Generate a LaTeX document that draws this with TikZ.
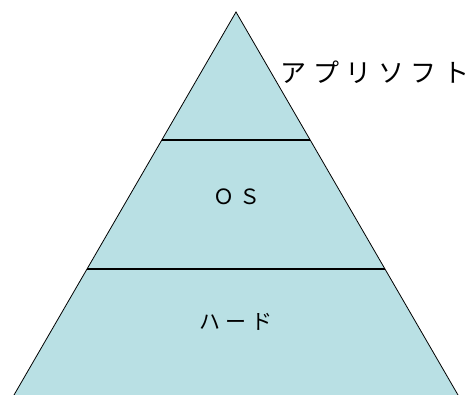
\documentclass[tikz,border=0pt]{standalone}
\usepackage{fontspec}
\usepackage{tikz}
\usepackage{xcolor}
\newfontfamily\jpfont[LetterSpace=25]{Noto Sans CJK JP}
\definecolor{layerfill}{HTML}{B9E0E4}

\begin{document}
\begin{tikzpicture}[x=1pt,y=-1pt]
\useasboundingbox (0,0) rectangle (471,395);
\clip (0,0) rectangle (471,395);
\fill[layerfill] (236,12)--(460.9,400)--(11.1,400)--cycle;
\draw[line width=0.8pt] (11.1,400)--(236,12)--(460.9,400);
\draw[line width=1.8pt] (162.2,140)--(309.8,140);
\draw[line width=1.8pt] (87.4,269)--(384.6,269);
\node[font=\jpfont\fontsize{26}{30}\selectfont] (app) at (375,72) {アプリソフト};
\node[font=\jpfont\fontsize{21}{24}\selectfont] (os) at (237,197) {ＯＳ};
\node[font=\jpfont\fontsize{21}{24}\selectfont] (hard) at (236,322) {ハード};
\end{tikzpicture}
\end{document}
